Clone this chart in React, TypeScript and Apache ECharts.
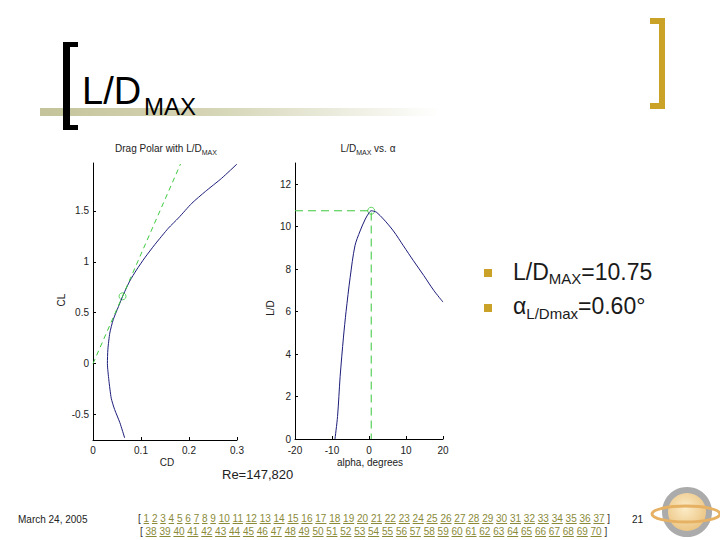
import React, { useEffect, useRef } from "react";
import * as echarts from "echarts";

// ---------- data ----------
const dragCL = [-0.73, -0.58, -0.45, -0.34, -0.16, 0.0, 0.14, 0.3, 0.43, 0.56, 0.68, 0.81, 0.92, 1.04, 1.17, 1.33, 1.43, 1.575, 1.69, 1.82, 1.96];
const dragCD = [0.066, 0.056, 0.045, 0.038, 0.033, 0.030, 0.031, 0.035, 0.042, 0.053, 0.0635, 0.0765, 0.0906, 0.108, 0.129, 0.157, 0.178, 0.206, 0.234, 0.268, 0.3];
const alphaDeg = [-9.2, -8.5, -7.8, -6.9, -6.2, -5.1, -3.8, -2.4, -1.0, 0.0, 0.6, 1.3, 2.1, 3.9, 6.6, 9.3, 12.0, 14.8, 17.5, 20];
const liftToDrag = [0, 1.06, 2.94, 4.8, 6.0, 7.6, 9.1, 9.8, 10.36, 10.65, 10.75, 10.73, 10.67, 10.36, 9.8, 9.1, 8.4, 7.7, 7.0, 6.45];
const ldMax = 10.75;
const alphaAtLdMax = 0.6;
const clAtLdMax = 0.661;
const cdAtLdMax = 0.0615;
const cdTicks = [0, 0.1, 0.2, 0.3];
const clTicks = [-0.5, 0, 0.5, 1, 1.5];
const alphaTicks = [-20, -10, 0, 10, 20];
const ldTicks = [0, 2, 4, 6, 8, 10, 12];
const pagesRow1 = Array.from({ length: 37 }, (_, i) => i + 1);
const pagesRow2 = Array.from({ length: 33 }, (_, i) => i + 38);

const FONT = '"Liberation Sans", Arial, sans-serif';
const NAVY = "#1c1c7a";
const GREEN = "#3cc83c";
const GOLD = "#c9a227";

let mctx: CanvasRenderingContext2D | null = null;
function tw(s: string, size: number) {
  if (!mctx) mctx = document.createElement("canvas").getContext("2d");
  if (!mctx) return s.length * size * 0.55;
  mctx.font = `${size}px "Liberation Sans"`;
  return mctx.measureText(s).width;
}

type Part = { text: string; size: number; y: number; color?: string };
function run(parts: Part[], x: number, align: "left" | "center" = "left") {
  const widths = parts.map((p) => tw(p.text, p.size));
  const total = widths.reduce((a, b) => a + b, 0);
  let cx = align === "center" ? x - total / 2 : x;
  return parts.map((p, i) => {
    const el = {
      type: "text",
      x: cx,
      y: p.y,
      style: { text: p.text, fontSize: p.size, fontFamily: FONT, fill: p.color || "#000", align: "left", verticalAlign: "middle" },
    };
    cx += widths[i];
    return el;
  });
}

function txt(text: string, x: number, y: number, size: number, extra: any = {}) {
  return {
    type: "text",
    x,
    y,
    rotation: extra.rotation || 0,
    style: { text, fontSize: size, fontFamily: FONT, fill: extra.color || "#111", align: extra.align || "left", verticalAlign: "middle" },
  };
}

export default function App() {
  const ref = useRef<HTMLDivElement>(null);
  useEffect(() => {
    document.body.style.margin = "0";
    if (!ref.current) return;
    const chart = echarts.init(ref.current, undefined, { renderer: "svg" });
    const clTop = Math.max(...dragCL);
    const axisBase = {
      axisLine: { show: true, onZero: false, lineStyle: { color: "#000", width: 1 } },
      splitLine: { show: false },
    };
    const tick = (vals?: number[]) => ({ show: true, inside: true, length: 3, lineStyle: { color: "#000" }, ...(vals ? { customValues: vals } : {}) });
    const label = (vals?: number[], margin = 4) => ({ fontSize: 10, color: "#222", fontFamily: FONT, margin, ...(vals ? { customValues: vals } : {}) });

    const graphic: any[] = [
      {
        type: "rect",
        shape: { x: 40, y: 108, width: 400, height: 8 },
        style: { fill: new echarts.graphic.LinearGradient(0, 0, 1, 0, [
          { offset: 0, color: "#c4c49a" },
          { offset: 0.45, color: "#d6d6b8" },
          { offset: 1, color: "#ffffff" },
        ]) },
      },
      { type: "rect", shape: { x: 63, y: 42, width: 7, height: 88 }, style: { fill: "#000" } },
      { type: "rect", shape: { x: 63, y: 42, width: 15, height: 5 }, style: { fill: "#000" } },
      { type: "rect", shape: { x: 63, y: 125, width: 15, height: 5 }, style: { fill: "#000" } },
      { type: "rect", shape: { x: 659, y: 18, width: 6, height: 91 }, style: { fill: GOLD } },
      { type: "rect", shape: { x: 650, y: 18, width: 15, height: 6 }, style: { fill: GOLD } },
      { type: "rect", shape: { x: 650, y: 103, width: 15, height: 6 }, style: { fill: GOLD } },
      txt("L/D", 82, 91, 38, { color: "#000" }),
      txt("MAX", 144, 106, 24, { color: "#000" }),
      ...run([
        { text: "Drag Polar with L/D", size: 10, y: 148, color: "#222" },
        { text: "MAX", size: 7, y: 152, color: "#222" },
      ], 166, "center"),
      ...run([
        { text: "L/D", size: 10, y: 148, color: "#222" },
        { text: "MAX", size: 7, y: 152, color: "#222" },
        { text: " vs. α", size: 10, y: 148, color: "#222" },
      ], 368, "center"),
      txt("CL", 61, 300, 10, { rotation: Math.PI / 2, align: "center", color: "#222" }),
      txt("CD", 167, 462, 10, { align: "center", color: "#222" }),
      txt("L/D", 270, 308, 10, { rotation: Math.PI / 2, align: "center", color: "#222" }),
      txt("alpha, degrees", 370, 462, 10, { align: "center", color: "#222" }),
      txt("Re=147,820", 222, 474, 13, { color: "#222" }),
      { type: "rect", shape: { x: 484, y: 269, width: 8, height: 8 }, style: { fill: GOLD } },
      { type: "rect", shape: { x: 484, y: 304, width: 8, height: 8 }, style: { fill: GOLD } },
      ...run([
        { text: "L/D", size: 23, y: 272, color: "#1a1a1a" },
        { text: "MAX", size: 15, y: 278, color: "#1a1a1a" },
        { text: "=" + ldMax.toFixed(2), size: 23, y: 272, color: "#1a1a1a" },
      ], 513),
      ...run([
        { text: "α", size: 23, y: 306, color: "#1a1a1a" },
        { text: "L/Dmax", size: 15, y: 313, color: "#1a1a1a" },
        { text: "=" + alphaAtLdMax.toFixed(2) + "°", size: 23, y: 306, color: "#1a1a1a" },
      ], 513),
      txt("March 24, 2005", 18, 519, 10, { color: "#222" }),
      txt("21", 632, 519, 10, { color: "#222" }),
      { type: "circle", shape: { cx: 687, cy: 512, r: 25 }, style: { fill: "#ababab" } },
      {
        type: "circle",
        shape: { cx: 687, cy: 512, r: 19 },
        style: { fill: new echarts.graphic.RadialGradient(0.45, 0.4, 0.7, [
          { offset: 0, color: "#fcecc8" },
          { offset: 1, color: "#e9bf78" },
        ]) },
      },
      { type: "ellipse", shape: { cx: 686, cy: 514, rx: 34, ry: 8 }, style: { fill: "none", stroke: "#e6b163", lineWidth: 3 } },
    ];

    chart.setOption({
      animation: false,
      grid: [
        { left: 93, top: 163, width: 144, height: 277 },
        { left: 295, top: 163, width: 148, height: 276 },
      ],
      xAxis: [
        { type: "value", gridIndex: 0, min: cdTicks[0], max: cdTicks[cdTicks.length - 1], interval: 0.1, ...axisBase, axisTick: tick(), axisLabel: label(undefined, 5) },
        { type: "value", gridIndex: 1, min: alphaTicks[0], max: alphaTicks[alphaTicks.length - 1], interval: 10, ...axisBase, axisTick: tick(), axisLabel: label(undefined, 6) },
      ],
      yAxis: [
        { type: "value", gridIndex: 0, min: -0.75, max: 1.97, ...axisBase, axisTick: tick(clTicks), axisLabel: label(clTicks) },
        { type: "value", gridIndex: 1, min: ldTicks[0], max: 13, ...axisBase, axisTick: tick(ldTicks), axisLabel: label(ldTicks) },
      ],
      series: [
        {
          type: "line", xAxisIndex: 0, yAxisIndex: 0,
          data: dragCD.map((cd, i) => [cd, dragCL[i]]),
          symbol: "none", smooth: 0.2, lineStyle: { color: NAVY, width: 1 },
        },
        {
          type: "line", xAxisIndex: 0, yAxisIndex: 0,
          data: [[0, 0], [clTop / ldMax, clTop]],
          symbol: "none", lineStyle: { color: GREEN, width: 1, type: [5, 4] },
        },
        {
          type: "scatter", xAxisIndex: 0, yAxisIndex: 0,
          data: [[cdAtLdMax, clAtLdMax]], symbol: "circle", symbolSize: 7,
          itemStyle: { color: "rgba(0,0,0,0)", borderColor: GREEN, borderWidth: 1 },
        },
        {
          type: "line", xAxisIndex: 1, yAxisIndex: 1,
          data: alphaDeg.map((a, i) => [a, liftToDrag[i]]),
          symbol: "none", smooth: 0.3, lineStyle: { color: NAVY, width: 1 },
        },
        {
          type: "line", xAxisIndex: 1, yAxisIndex: 1,
          data: [[alphaTicks[0], ldMax], [alphaAtLdMax, ldMax], [alphaAtLdMax, ldTicks[0]]],
          symbol: "none", lineStyle: { color: GREEN, width: 1, type: [8, 5] },
        },
        {
          type: "scatter", xAxisIndex: 1, yAxisIndex: 1,
          data: [[alphaAtLdMax, ldMax]], symbol: "circle", symbolSize: 7,
          itemStyle: { color: "rgba(0,0,0,0)", borderColor: GREEN, borderWidth: 1 },
        },
      ],
      graphic,
    });
    return () => chart.dispose();
  }, []);

  const linkStyle: React.CSSProperties = { color: "#8a8a38", textDecoration: "underline" };
  const rowStyle: React.CSSProperties = {
    position: "absolute", font: '10px "Liberation Sans", Arial, sans-serif', whiteSpace: "pre", color: "#333", lineHeight: "12px",
  };
  return (
    <div style={{ position: "absolute", left: 0, top: 0, width: 720, height: 540, background: "#fff" }}>
      <div ref={ref} style={{ position: "absolute", left: 0, top: 0, width: 720, height: 540 }} />
      <div style={{ ...rowStyle, left: 138, top: 513 }}>
        {"[ "}
        {pagesRow1.map((n) => (
          <React.Fragment key={n}>
            <span style={linkStyle}>{n}</span>{" "}
          </React.Fragment>
        ))}
        {"]"}
      </div>
      <div style={{ ...rowStyle, left: 140, top: 526 }}>
        {"[ "}
        {pagesRow2.map((n) => (
          <React.Fragment key={n}>
            <span style={linkStyle}>{n}</span>{" "}
          </React.Fragment>
        ))}
        {"]"}
      </div>
    </div>
  );
}
